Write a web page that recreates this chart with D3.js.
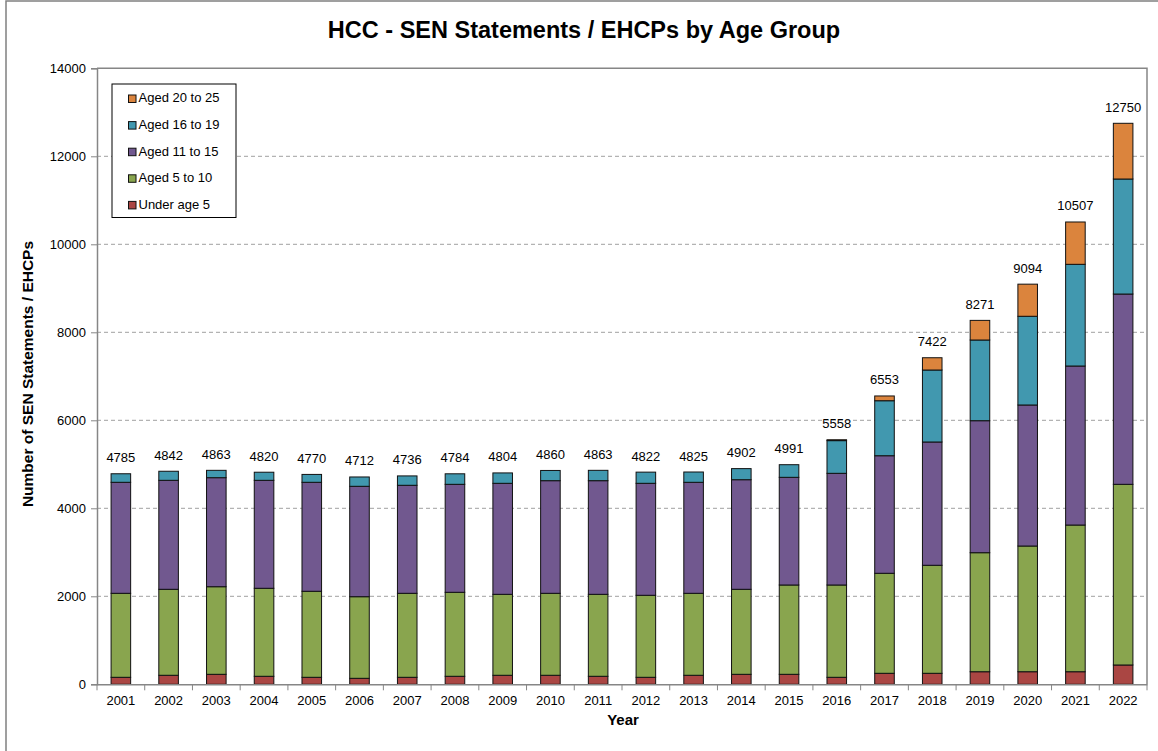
<!DOCTYPE html>
<html>
<head>
<meta charset="utf-8">
<script src="https://cdn.jsdelivr.net/npm/d3@7"></script>
<style>
  body { margin: 0; background: #fff; }
  svg { font-family: "Liberation Sans", Arial, sans-serif; }
</style>
</head>
<body>
<div id="chart"></div>
<script>
const years = ['2001','2002','2003','2004','2005','2006','2007','2008','2009','2010','2011',
  '2012','2013','2014','2015','2016','2017','2018','2019','2020','2021','2022'];
const under5 = [159,205,227,182,159,136,159,182,205,205,182,159,205,227,227,159,250,250,286,286,286,439];
const aged5to10 = [1909,1954,1991,2000,1955,1855,1909,1909,1840,1863,1863,1864,1863,1932,2030,2098,2273,2455,2705,2857,3334,4106];
const aged11to15 = [2523,2477,2478,2454,2477,2509,2455,2454,2523,2560,2583,2545,2523,2491,2447,2538,2672,2802,3000,3205,3614,4325];
const aged16to19 = [194,206,167,184,179,212,213,239,236,232,235,254,234,252,287,743,1250,1636,1834,2016,2311,2614];
const aged20to25 = [0,0,0,0,0,0,0,0,0,0,0,0,0,0,0,20,108,279,446,730,962,1266];

const seriesNames = ['Under age 5','Aged 5 to 10','Aged 11 to 15','Aged 16 to 19','Aged 20 to 25'];
const seriesValues = [under5, aged5to10, aged11to15, aged16to19, aged20to25];
const colors = ['#AA4643','#89A54E','#71588F','#4198AF','#DB843D'];
const yTicks = [0,2000,4000,6000,8000,10000,12000,14000];

const W = 1158, H = 751;
const plotLeft = 97, plotRight = 1147, plotTop = 68.3, plotBottom = 684.3;

const rows = years.map((yr, i) => {
  const r = { year: yr };
  seriesNames.forEach((s, k) => r[s] = seriesValues[k][i]);
  return r;
});
const totals = years.map((yr, i) => d3.sum(seriesValues, v => v[i]));

const svg = d3.select('#chart').append('svg').attr('width', W).attr('height', H);

// outer frame
svg.append('rect').attr('x', 6).attr('y', 1).attr('width', 1170).attr('height', 780)
  .attr('fill', 'none').attr('stroke', '#808080').attr('stroke-width', 1.5);

const x = d3.scaleBand().domain(years).range([plotLeft, plotRight]).paddingInner(0.59).paddingOuter(0.295);
const y = d3.scaleLinear().domain([0, 14000]).range([plotBottom, plotTop]);

// gridlines
svg.append('g').selectAll('line').data(yTicks.filter(t => t > 0 && t < 14000)).join('line')
  .attr('x1', plotLeft).attr('x2', plotRight)
  .attr('y1', d => y(d)).attr('y2', d => y(d))
  .attr('stroke', '#a0a0a0').attr('stroke-dasharray', '4,3');

// plot border top/right
svg.append('path').attr('d', `M${plotLeft},${plotTop}H${plotRight}V${plotBottom}`)
  .attr('fill', 'none').attr('stroke', '#868686').attr('stroke-width', 1.5);

// stacked bars
const stack = d3.stack().keys(seriesNames);
const layers = stack(rows);
svg.append('g').selectAll('g').data(layers).join('g')
  .attr('fill', (d, i) => colors[i])
  .selectAll('rect').data(d => d.filter(p => p[1] - p[0] > 0)).join('rect')
  .attr('x', d => x(d.data.year))
  .attr('width', x.bandwidth())
  .attr('y', d => y(d[1]))
  .attr('height', d => y(d[0]) - y(d[1]))
  .attr('stroke', '#111').attr('stroke-width', 1);

// total labels
svg.append('g').selectAll('text').data(years).join('text')
  .attr('x', d => x(d) + x.bandwidth() / 2)
  .attr('y', (d, i) => y(totals[i]) - 11.5)
  .attr('text-anchor', 'middle').attr('font-size', 13).attr('fill', '#000')
  .text((d, i) => totals[i]);

// y axis
const yAxis = svg.append('g').attr('transform', `translate(${plotLeft},0)`)
  .call(d3.axisLeft(y).tickValues(yTicks).tickSize(6).tickPadding(5).tickFormat(d3.format('d')));
yAxis.select('.domain').attr('stroke', '#868686').attr('stroke-width', 1.5);
yAxis.selectAll('.tick line').attr('stroke', '#868686');
yAxis.selectAll('text').attr('font-size', 13).attr('fill', '#000').attr('font-family', 'Liberation Sans, Arial, sans-serif');

// x axis
const xAxis = svg.append('g').attr('transform', `translate(0,${plotBottom})`)
  .call(d3.axisBottom(x).tickSize(0).tickPadding(11.5));
xAxis.select('.domain').attr('stroke', '#868686').attr('stroke-width', 1.5);
xAxis.selectAll('text').attr('font-size', 13).attr('fill', '#000').attr('font-family', 'Liberation Sans, Arial, sans-serif');
xAxis.append('g').selectAll('line').data(d3.range(years.length + 1)).join('line')
  .attr('x1', i => plotLeft + i * x.step()).attr('x2', i => plotLeft + i * x.step())
  .attr('y1', 0).attr('y2', 6).attr('stroke', '#868686');

// titles
svg.append('text').attr('x', 584).attr('y', 38).attr('text-anchor', 'middle')
  .attr('font-size', 23.5).attr('font-weight', 'bold').text('HCC - SEN Statements / EHCPs by Age Group');
svg.append('text').attr('x', 623).attr('y', 725).attr('text-anchor', 'middle')
  .attr('font-size', 15).attr('font-weight', 'bold').text('Year');
svg.append('text').attr('transform', `translate(33,374) rotate(-90)`).attr('text-anchor', 'middle')
  .attr('font-size', 15.5).attr('font-weight', 'bold').text('Number of SEN Statements / EHCPs');

// legend
const lg = svg.append('g');
lg.append('rect').attr('x', 112).attr('y', 84).attr('width', 124).attr('height', 133.5)
  .attr('fill', '#fff').attr('stroke', '#000');
const legendOrder = [4, 3, 2, 1, 0];
legendOrder.forEach((k, j) => {
  const cy = 98.8 + j * 26.6;
  lg.append('rect').attr('x', 128.5).attr('y', cy - 3.8).attr('width', 7.5).attr('height', 7.5)
    .attr('fill', colors[k]).attr('stroke', '#111');
  lg.append('text').attr('x', 138.5).attr('y', cy + 3.5).attr('font-size', 13).text(seriesNames[k]);
});
</script>
</body>
</html>
